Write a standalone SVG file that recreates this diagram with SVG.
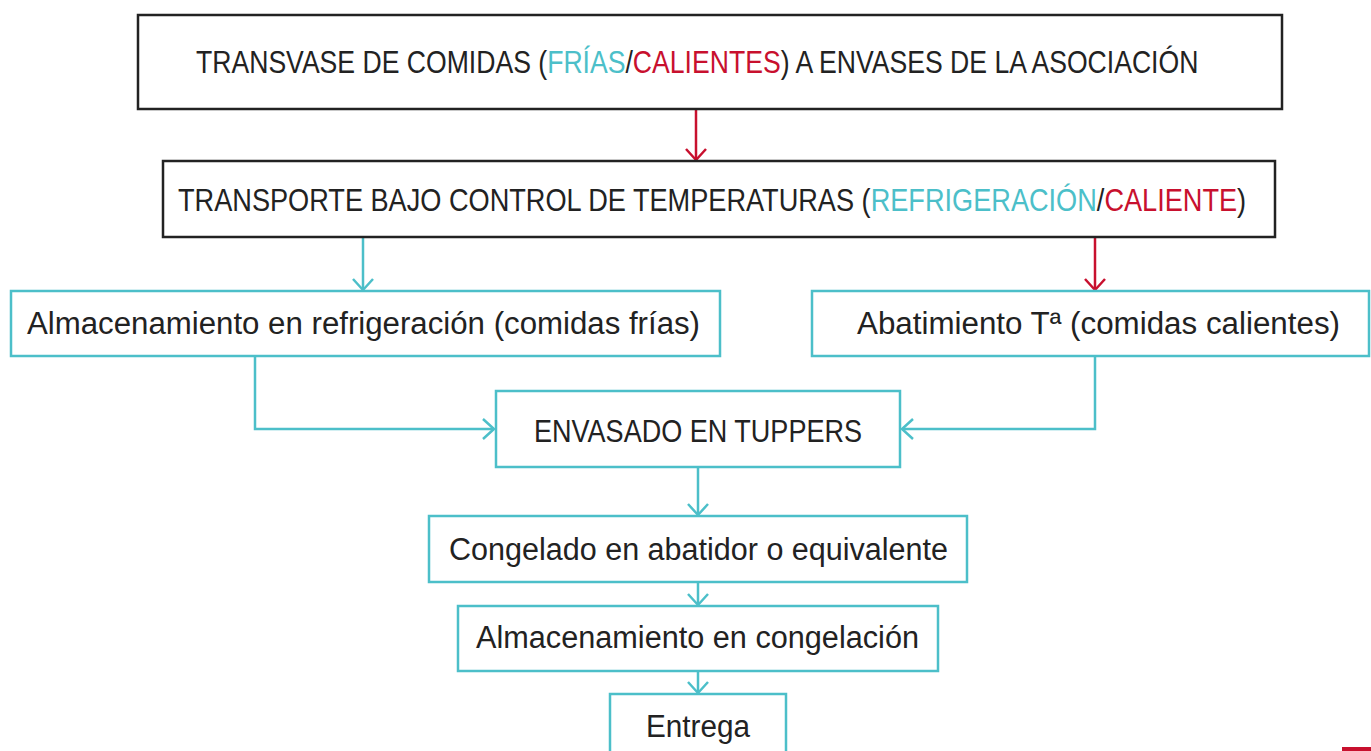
<svg xmlns="http://www.w3.org/2000/svg" width="1371" height="751" viewBox="0 0 1371 751">
<style>
  .dk{fill:#fff;stroke:#222;stroke-width:2.5}
  .cy{fill:#fff;stroke:#4cbfc9;stroke-width:2.5}
  .t{font-family:"Liberation Sans","DejaVu Sans",sans-serif;font-size:31px;fill:#222}
  .u{font-family:"Liberation Sans","DejaVu Sans",sans-serif;fill:#222}
  .c{fill:#4cbfc9}
  .r{fill:#c8102e}
  .lc{fill:none;stroke:#4cbfc9;stroke-width:2.5}
  .lr{fill:none;stroke:#c8102e;stroke-width:2.5}
</style>
<defs>
  <marker id="ac" viewBox="0 0 14 24" refX="12" refY="12" markerWidth="14" markerHeight="24" markerUnits="userSpaceOnUse" orient="auto">
    <path d="M1,2 L12,12 L1,22" fill="none" stroke="#4cbfc9" stroke-width="2.5"/>
  </marker>
  <marker id="ar" viewBox="0 0 14 24" refX="12" refY="12" markerWidth="14" markerHeight="24" markerUnits="userSpaceOnUse" orient="auto">
    <path d="M1,2 L12,12 L1,22" fill="none" stroke="#c8102e" stroke-width="2.5"/>
  </marker>
</defs>
<rect width="1371" height="751" fill="#fff"/>
<g id="connectors">
  <path class="lr" d="M696,109 V160" marker-end="url(#ar)"/>
  <path class="lc" d="M363,237 V290" marker-end="url(#ac)"/>
  <path class="lr" d="M1095,237 V290" marker-end="url(#ar)"/>
  <path class="lc" d="M255,356 V429 H494" marker-end="url(#ac)"/>
  <path class="lc" d="M1095,356 V429 H902" marker-end="url(#ac)"/>
  <path class="lc" d="M698,467 V515" marker-end="url(#ac)"/>
  <path class="lc" d="M698,582 V605" marker-end="url(#ac)"/>
  <path class="lc" d="M698,671 V693" marker-end="url(#ac)"/>
</g>
<g id="n1">
  <rect class="dk" x="138" y="15" width="1144" height="94"/>
  <text class="u" font-size="26.6" transform="translate(196,73) scale(1,1.16)" x="0" y="0">TRANSVASE DE COMIDAS (<tspan class="c">FRÍAS</tspan>/<tspan class="r">CALIENTES</tspan>) A ENVASES DE LA ASOCIACIÓN</text>
</g>
<g id="n2">
  <rect class="dk" x="163" y="161" width="1112" height="76"/>
  <text class="u" font-size="27.15" transform="translate(178,211) scale(1,1.16)" x="0" y="0">TRANSPORTE BAJO CONTROL DE TEMPERATURAS (<tspan class="c">REFRIGERACIÓN</tspan>/<tspan class="r">CALIENTE</tspan>)</text>
</g>
<g id="n3">
  <rect class="cy" x="11" y="291" width="709" height="65"/>
  <text class="t" x="27" y="334" textLength="673" lengthAdjust="spacingAndGlyphs">Almacenamiento en refrigeración (comidas frías)</text>
</g>
<g id="n4">
  <rect class="cy" x="812" y="291" width="557" height="65"/>
  <text class="t" x="857" y="334" textLength="483" lengthAdjust="spacingAndGlyphs">Abatimiento Tª (comidas calientes)</text>
</g>
<g id="n5">
  <rect class="cy" x="496" y="391" width="404" height="76"/>
  <text class="t" x="534" y="442" textLength="328" lengthAdjust="spacingAndGlyphs">ENVASADO EN TUPPERS</text>
</g>
<g id="n6">
  <rect class="cy" x="429" y="516" width="538" height="66"/>
  <text class="t" x="449" y="560" textLength="499" lengthAdjust="spacingAndGlyphs">Congelado en abatidor o equivalente</text>
</g>
<g id="n7">
  <rect class="cy" x="458" y="606" width="480" height="65"/>
  <text class="t" x="476" y="648" textLength="443" lengthAdjust="spacingAndGlyphs">Almacenamiento en congelación</text>
</g>
<g id="n8">
  <rect class="cy" x="610" y="694" width="176" height="70"/>
  <text class="t" x="646" y="737" textLength="104" lengthAdjust="spacingAndGlyphs">Entrega</text>
</g>
<rect x="1342" y="747" width="29" height="4" fill="#c8102e"/>
</svg>
